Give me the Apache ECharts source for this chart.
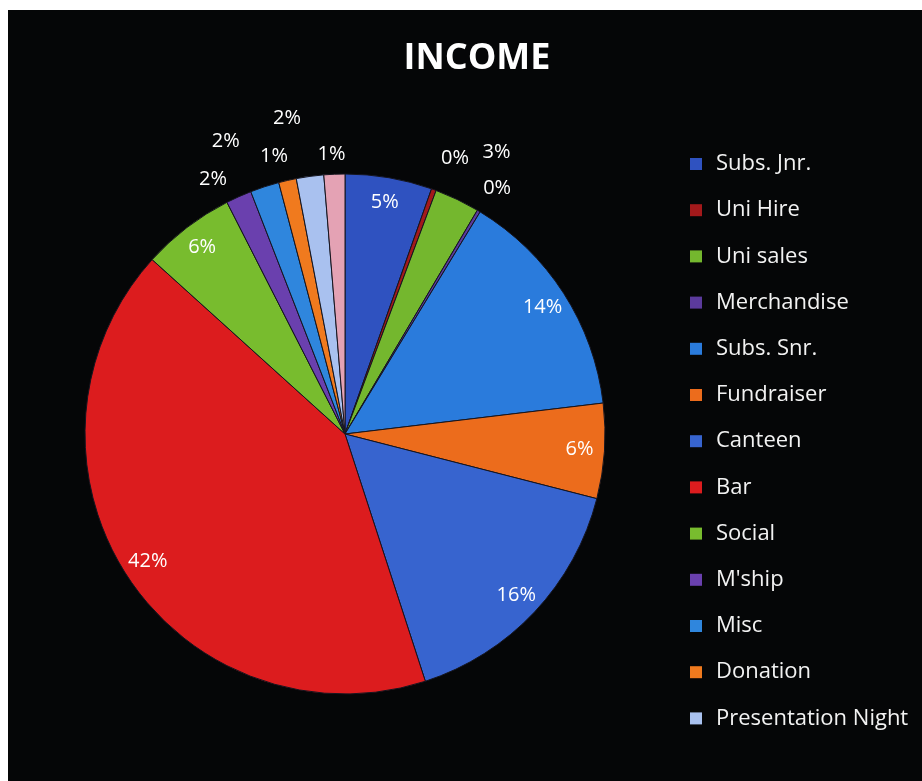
<!DOCTYPE html>
<html>
<head>
<meta charset="utf-8">
<script src="https://cdn.jsdelivr.net/npm/echarts@6/dist/echarts.min.js"></script>
<style>
html, body { margin: 0; padding: 0; background: #ffffff; }
#chart { position: absolute; left: 8px; top: 10px; width: 914px; height: 771px; background: #050607; }
</style>
</head>
<body>
<div id="chart"></div>
<script>
// ---- data ----
const categories = ['Subs. Jnr.', 'Uni Hire', 'Uni sales', 'Merchandise', 'Subs. Snr.', 'Fundraiser',
  'Canteen', 'Bar', 'Social', "M'ship", 'Misc', 'Donation', 'Presentation Night', 'Other'];
const values = [5.4, 0.3, 2.8, 0.2, 14.4, 5.9, 16.0, 41.7, 5.8, 1.6, 1.8, 1.1, 1.7, 1.3];
const legendNames = categories.slice(0, 13);

// ---- styles ----
const colors = ['#2f52c0', '#a3191b', '#74b72e', '#5b3a9c', '#2a7bdc', '#ec6c1c',
  '#3764cf', '#dc1c1e', '#78bc2e', '#6a40ae', '#2f86dd', '#f07a1e', '#a9c1ef', '#e4a2b4'];
const labelPlace = ['inside', 'outside', 'outside', 'outside', 'inside', 'inside',
  'inside', 'inside', 'inside', 'outside', 'outside', 'outside', 'outside', 'outside'];
const labelLen = [0, 33, 52, 26, 0, 0, 0, 0, 0, 19, 48, 25, 59, 20];
const labelLen2 = [0, 10, 17, 5, 0, 0, 0, 0, 0, 18, 24, 8, 15, 2];

const center = [337, 424];
const R = 260;
const font = '"Open Sans", "DejaVu Sans", sans-serif';

const chart = echarts.init(document.getElementById('chart'), null, { renderer: 'canvas' });

const mainData = categories.map((n, i) => ({
  name: n, value: values[i],
  itemStyle: { color: colors[i] }
}));
const labelData = categories.map((n, i) => ({
  name: n, value: values[i],
  label: { position: labelPlace[i] },
  labelLine: { show: false, length: labelLen[i], length2: labelLen2[i] }
}));

chart.setOption({
  backgroundColor: '#050607',
  animation: false,
  title: {
    text: 'INCOME',
    left: 464, top: 26, textAlign: 'center',
    textStyle: { color: '#ffffff', fontSize: 36, fontWeight: 'bold', fontFamily: font }
  },
  legend: {
    data: legendNames,
    orient: 'vertical',
    left: 677, top: 137,
    itemWidth: 12, itemHeight: 12, itemGap: 22.2,
    icon: 'rect',
    selectedMode: false,
    itemStyle: { borderWidth: 0 },
    textStyle: { color: '#f2f2f2', fontSize: 22, fontFamily: font, lineHeight: 24, padding: [0, 0, 0, 9] }
  },
  series: [
    {
      type: 'pie',
      center: center,
      radius: [0, R],
      startAngle: 90,
      clockwise: true,
      avoidLabelOverlap: false,
      label: { show: false },
      labelLine: { show: false },
      itemStyle: { borderColor: '#15151f', borderWidth: 1 },
      emphasis: { disabled: true },
      data: mainData
    },
    {
      type: 'pie',
      center: center,
      radius: [R - 56, R],
      startAngle: 90,
      clockwise: true,
      silent: true,
      avoidLabelOverlap: false,
      itemStyle: { color: 'rgba(0,0,0,0)', borderWidth: 0 },
      emphasis: { disabled: true },
      label: {
        show: true,
        color: '#ffffff',
        fontSize: 20,
        fontFamily: font,
        distanceToLabelLine: -14,
        formatter: p => Math.round(p.percent) + '%'
      },
      labelLine: { show: false },
      data: labelData
    }
  ]
});
</script>
</body>
</html>
